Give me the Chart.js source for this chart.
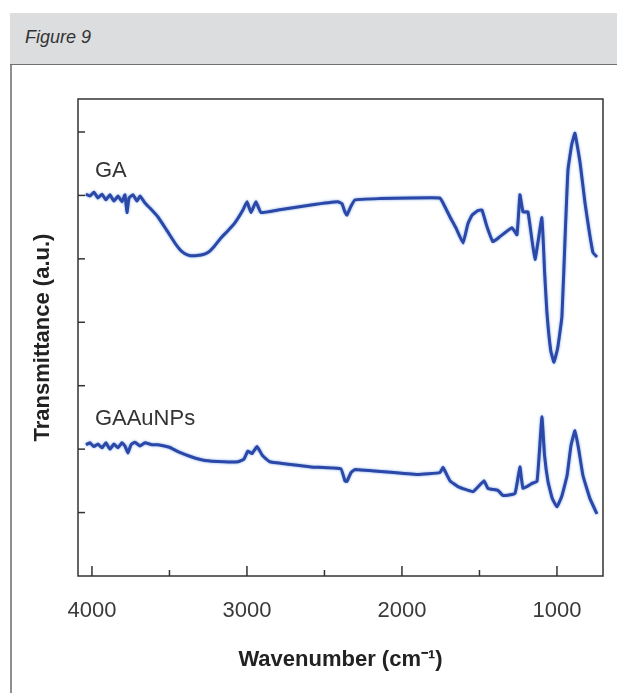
<!DOCTYPE html>
<html>
<head>
<meta charset="utf-8">
<script src="https://cdn.jsdelivr.net/npm/chart.js@4.4.1/dist/chart.umd.min.js"></script>
<style>
	body { margin: 0; background: #fff; width: 617px; height: 693px; overflow: hidden; position: relative; }
	#box { position: absolute; left: 10px; top: 13px; width: 640px; height: 700px; border-left: 2px solid #8f8f8f; }
	#head { position: absolute; left: 10px; top: 13px; width: 620px; height: 52px; background: #dcdddf; border-bottom: 1px solid #6f6f6f;
		font: italic 18px "Liberation Sans", Arial, sans-serif; color: #333; line-height: 48px; padding-left: 15px; box-sizing: border-box; }
	#myChart { position: absolute; left: 0; top: 65px; }
</style>
</head>
<body>
<div id="box"></div>
<div id="head">Figure 9</div>
<canvas id="myChart" width="617" height="628"></canvas>
<script>
// FTIR spectra, x = wavenumber (cm-1), y = transmittance (a.u.)
var gaWavenumber = [4039, 4013, 3987, 3961, 3935, 3910, 3884, 3858, 3832, 3806, 3787, 3774, 3761, 3735, 3710, 3690, 3658, 3626, 3574, 3520, 3465,
	3430, 3400, 3365, 3335, 3295, 3252, 3210, 3168, 3120, 3077, 3026, 3000, 2974, 2942, 2910, 2800, 2587, 2413, 2387, 2368, 2355, 2329, 2303, 2142, 1948,
	1755, 1735, 1690, 1652, 1606, 1575, 1548, 1510, 1484, 1452, 1413, 1368, 1290, 1258, 1239, 1219, 1187, 1142, 1097, 1080, 1065, 1040, 1019, 995, 968,
	945, 929, 905, 884, 850, 819, 768, 742]
var gaTransmittance = [6.02, 5.99, 6.05, 5.96, 6.02, 5.93, 6.01, 5.91, 5.99, 5.90, 6.01, 5.73, 5.96, 6.01, 5.91, 5.99, 5.88, 5.80, 5.66, 5.46, 5.25,
	5.14, 5.08, 5.05, 5.05, 5.06, 5.10, 5.20, 5.33, 5.45, 5.57, 5.77, 5.90, 5.73, 5.90, 5.73, 5.77, 5.85, 5.90, 5.87, 5.74, 5.69, 5.83, 5.93, 5.95, 5.96,
	5.96, 5.88, 5.66, 5.49, 5.25, 5.55, 5.69, 5.76, 5.77, 5.51, 5.27, 5.35, 5.49, 5.38, 6.01, 5.74, 5.74, 4.99, 5.65, 4.80, 4.16, 3.55, 3.37, 3.60, 4.09,
	5.50, 6.40, 6.80, 6.98, 6.50, 5.88, 5.10, 5.03]

var auWavenumber = [4039, 4013, 3987, 3961, 3935, 3910, 3884, 3858, 3832, 3806, 3787, 3768, 3748, 3723, 3690, 3658, 3613, 3574, 3500, 3445, 3360, 3271,
	3150, 3058, 3020, 2994, 2968, 2935, 2900, 2852, 2587, 2394, 2368, 2355, 2329, 2303, 1903, 1755, 1735, 1690, 1639, 1542, 1471, 1445, 1381,
	1348, 1271, 1239, 1219, 1161, 1129, 1115, 1097, 1080, 1058, 1030, 1000, 970, 935, 910, 884, 860, 832, 787, 742]
var auTransmittance = [2.07, 2.10, 2.04, 2.08, 2.02, 2.10, 2.00, 2.08, 2.02, 2.10, 2.05, 1.94, 2.07, 2.11, 2.05, 2.10, 2.07, 2.07, 2.03, 1.96, 1.88, 1.82,
	1.80, 1.80, 1.84, 1.97, 1.93, 2.04, 1.90, 1.80, 1.72, 1.69, 1.50, 1.49, 1.63, 1.68, 1.60, 1.63, 1.71, 1.50, 1.41, 1.33, 1.50, 1.38, 1.35,
	1.27, 1.30, 1.72, 1.38, 1.46, 1.49, 1.90, 2.51, 1.90, 1.49, 1.22, 1.09, 1.25, 1.58, 2.05, 2.29, 2.00, 1.58, 1.22, 0.98]

var xTicks = [4000, 3500, 3000, 2500, 2000, 1500, 1000]
var yTicks = [1, 2, 3, 4, 5, 6, 7]
var seriesNames = ["GA", "GAAuNPs"]
var nameLevels = [6.38, 2.48]

var lineColor = "#2b47a8"
var textFont = '"Liberation Sans", Arial, sans-serif'

function toPoints(xs, ys) {
	return xs.map(function(x, i){ return {x: x, y: ys[i]} })
}

// soft light-blue edge round the traces, like the scanned print
var lineGlow = {
	id: 'lineGlow',
	beforeDatasetsDraw: function(chart) {
		chart.ctx.save()
		chart.ctx.shadowColor = "rgba(70,130,215,0.75)"
		chart.ctx.shadowBlur = 2.5
	},
	afterDatasetsDraw: function(chart) {
		chart.ctx.restore()
	}
}

// frame, inward tick marks and curve names
var frameTicks = {
	id: 'frameTicks',
	afterDraw: function(chart) {
		var ctx = chart.ctx, a = chart.chartArea
		var xs = chart.scales.x, ys = chart.scales.y
		ctx.save()
		ctx.strokeStyle = "#333"
		ctx.lineWidth = 1.5
		ctx.strokeRect(a.left, a.top, a.right - a.left, a.bottom - a.top)
		xTicks.forEach(function(v){
			var px = xs.getPixelForValue(v)
			var len = v % 1000 === 0 ? 10 : 6
			ctx.beginPath(); ctx.moveTo(px, a.bottom); ctx.lineTo(px, a.bottom - len); ctx.stroke()
		})
		yTicks.forEach(function(v){
			var py = ys.getPixelForValue(v)
			ctx.beginPath(); ctx.moveTo(a.left, py); ctx.lineTo(a.left + 7, py); ctx.stroke()
		})
		ctx.fillStyle = "#333"
		ctx.font = "22px " + textFont
		ctx.textBaseline = "middle"
		ctx.textAlign = "left"
		seriesNames.forEach(function(n, i){
			ctx.fillText(n, xs.getPixelForValue(3981), ys.getPixelForValue(nameLevels[i]))
		})
		ctx.restore()
	}
}

var canvasCtx = document.getElementById("myChart").getContext('2d')
var config = {
	type: 'line',
	data: {
		datasets: [
			{label: seriesNames[0], data: toPoints(gaWavenumber, gaTransmittance), borderColor: lineColor, borderWidth: 3, pointRadius: 0, tension: 0.1, fill: false},
			{label: seriesNames[1], data: toPoints(auWavenumber, auTransmittance), borderColor: lineColor, borderWidth: 3, pointRadius: 0, tension: 0.1, fill: false}
		]
	},
	options: {
		responsive: false,
		maintainAspectRatio: false,
		animation: false,
		devicePixelRatio: 1,
		layout: {padding: {top: 34, right: 14, left: 0, bottom: 0}},
		plugins: {legend: {display: false}, tooltip: {enabled: false}},
		scales: {
			x: {
				type: 'linear', reverse: true, min: 703, max: 4090,
				afterBuildTicks: function(s){ s.ticks = xTicks.map(function(v){ return {value: v} }) },
				afterFit: function(s){ s.height = 117 },
				grid: {display: false, drawTicks: false},
				border: {display: false},
				ticks: {
					padding: 22, color: "#3a3a3a", font: {family: textFont, size: 22}, maxRotation: 0, autoSkip: false,
					callback: function(v){ return v % 1000 === 0 ? String(v) : '' }
				},
				title: {display: true, text: "Wavenumber (cm\u207B\u00B9)", color: "#222", font: {family: textFont, size: 22, weight: 'bold'}, padding: {top: 0, bottom: 20}}
			},
			y: {
				min: 0, max: 7.52,
				afterBuildTicks: function(s){ s.ticks = yTicks.map(function(v){ return {value: v} }) },
				afterFit: function(s){ s.width = 78 },
				grid: {display: false, drawTicks: false},
				border: {display: false},
				ticks: {display: false},
				title: {display: true, text: "Transmittance (a.u.)", color: "#222", font: {family: textFont, size: 22, weight: 'bold'}, padding: {top: 30, bottom: 0}}
			}
		}
	},
	plugins: [lineGlow, frameTicks]
}
var myChart = new Chart(canvasCtx, config)
</script>
</body>
</html>
